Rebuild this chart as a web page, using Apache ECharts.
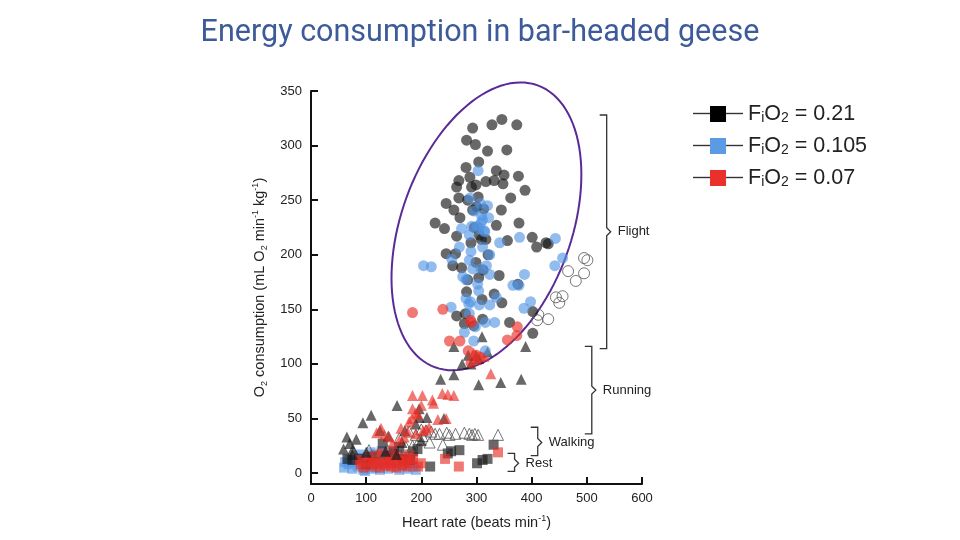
<!DOCTYPE html>
<html>
<head>
<meta charset="utf-8">
<title>Energy consumption in bar-headed geese</title>
<script src="https://cdn.jsdelivr.net/npm/echarts@6/dist/echarts.min.js"></script>
<style>
  html, body { margin: 0; padding: 0; background: #fff; }
  #chart { width: 960px; height: 540px; }
</style>
</head>
<body>
<div id="chart"></div>
<script>
const legendNames = ['FiO2 = 0.21', 'FiO2 = 0.105', 'FiO2 = 0.07'];

// flight (circles)
const flightBlack = [[293,316],[328,319],[346,324],[373,319],[282,305],[298,301],[320,295],[355,296],[304,285],[281,280],[336,277],[350,273],[376,272],[288,271],[268,268],[317,267],[332,268],[348,265],[291,262],[264,262],[299,264],[388,259],[268,252],[245,247],[284,250],[362,252],[303,253],[313,242],[345,241],[259,241],[270,234],[225,229],[242,224],[336,227],[377,229],[296,225],[264,217],[309,214],[317,214],[356,213],[401,216],[409,207],[426,211],[430,210],[245,201],[262,201],[321,200],[299,193],[257,190],[273,188],[341,181],[312,186],[284,177],[375,173],[304,179],[282,166],[332,164],[310,159],[346,156],[402,148],[264,144],[280,146],[311,141],[360,138],[402,128],[278,137],[295,135],[300,244],[293,241],[290,211],[305,218]];
const flightBlue = [[303,277],[288,252],[307,247],[322,234],[311,232],[301,226],[315,221],[273,224],[287,218],[378,216],[342,211],[443,215],[456,197],[442,190],[255,196],[204,190],[218,189],[290,203],[311,207],[287,195],[324,200],[293,187],[308,187],[324,182],[281,177],[302,173],[304,167],[366,172],[377,172],[387,182],[336,161],[281,160],[289,157],[305,154],[324,154],[254,152],[398,157],[386,151],[287,146],[316,138],[333,138],[298,134],[278,129],[295,121],[316,112],[269,207],[309,236],[296,240],[275,180],[318,190],[291,226],[308,229],[320,245],[286,155],[305,224],[314,222]];
const flightRed = [[184,147],[239,150],[251,121],[270,121],[289,140],[291,138],[290,101],[307,106],[356,122],[374,134],[373,126],[300,108],[285,112]];
const flightOpen = [[495,197],[501,195],[466,185],[495,183],[480,176],[444,161],[456,162],[450,156],[412,145],[410,140],[430,141]];

// running / walking (triangles)
const runBlack = [[259,116],[285,108],[299,108],[320,111],[310,125],[274,100],[304,105],[389,116],[235,86],[259,90],[304,81],[344,83],[381,86],[156,62],[196,59],[109,53],[94,46],[241,50],[210,51],[196,51],[65,33],[82,31],[59,22],[76,22],[70,27],[125,39],[170,39],[135,20],[155,17],[200,30],[190,45],[165,28],[290,100],[75,17],[100,19],[140,34]];
const runRed = [[184,71],[202,71],[220,67],[222,64],[200,62],[184,59],[194,54],[183,50],[178,47],[163,41],[127,41],[133,35],[142,33],[160,30],[238,73],[248,72],[259,71],[326,91],[245,50],[214,42],[203,39],[190,36],[169,33],[148,27],[119,37],[208,40],[230,49],[190,55],[300,104],[295,110],[314,107],[175,38]];
const walkOpen = [[178,38],[190,35],[209,39],[218,38],[233,36],[246,37],[251,35],[278,37],[287,36],[297,36],[303,35],[339,35],[239,26],[196,30],[184,25],[172,24],[202,34],[105,21],[139,21],[124,19],[215,28],[200,40],[160,32],[225,36],[262,36],[292,35]];

// rest (squares)
const restBlack = [[248,18],[254,20],[269,21],[216,6],[301,9],[311,12],[320,13],[331,26],[66,13],[75,12],[193,22],[160,24],[130,27],[111,15],[87,13],[166,13],[142,16],[180,12],[185,20],[100,8],[150,20]];
const restBlue = [[60,5],[68,8],[75,4],[80,10],[85,6],[90,14],[95,3],[100,8],[105,12],[110,4],[115,17],[120,10],[125,3],[130,15],[135,8],[140,4],[145,12],[150,18],[155,7],[160,3],[165,13],[170,8],[175,4],[180,11],[185,6],[190,3],[70,12],[88,17],[108,19],[128,20],[62,10],[98,2],[118,5],[138,18],[158,16]];
const restRed = [[243,13],[268,6],[339,19],[199,9],[194,6],[90,8],[100,10],[110,6],[115,12],[120,8],[125,5],[130,10],[135,7],[140,12],[145,6],[150,9],[155,5],[160,11],[165,7],[170,10],[175,6],[180,9],[185,13],[105,15],[118,16],[133,14],[148,17],[158,15],[172,14],[95,5],[128,18],[143,9],[88,12],[112,9],[178,17]];

// annotations: [x, yTop, yBottom, yMid]
const bracketNames = ['Flight', 'Running', 'Walking', 'Rest'];
const brackets = [[536,328,114,221],[509,116,36,76],[411,42,16,28],[369,18,1.6,9]];
const ellipseCenter = [318, 226];

const yTicks = [0, 50, 100, 150, 200, 250, 300, 350];

const colors = {
  black: 'rgba(25,25,25,0.82)',
  blue: 'rgba(80,148,228,0.78)',
  red: 'rgba(232,45,38,0.8)'
};
const legendColors = ['#000', '#5b9be6', '#e8312a'];

const chart = echarts.init(document.getElementById('chart'));

function scatter(name, data, symbol, size, color, open) {
  return {
    name: name,
    type: 'scatter',
    data: data,
    symbol: symbol,
    symbolSize: size,
    itemStyle: open
      ? { color: 'rgba(255,255,255,0)', borderColor: '#555', borderWidth: 1 }
      : { color: color },
    emphasis: { disabled: true },
    silent: true
  };
}

const legendLeft = 693;
const legendTop = 103;
const legendPitch = 32;

const option = {
  animation: false,
  title: {
    text: 'Energy consumption in bar-headed geese',
    left: 'center',
    top: 13,
    textStyle: { fontFamily: 'Roboto', fontSize: 30.5, fontWeight: 'normal', color: '#3d5a99' }
  },
  legend: {
    data: legendNames.map((n, i) => ({ name: n, itemStyle: { color: legendColors[i], opacity: 1 } })),
    orient: 'vertical',
    left: legendLeft,
    top: legendTop,
    padding: 0,
    itemWidth: 50,
    itemHeight: 16,
    itemGap: 10,
    // square key in a 50px wide box (tiny end specks keep the box width)
    icon: 'path://M0,8h0.01v0.01h-0.01z M17,0h16v16h-16z M49.99,8h0.01v0.01h-0.01z',
    formatter: name => 'F{s|i}O{s|2} = ' + name.split('= ')[1],
    textStyle: {
      fontFamily: 'Liberation Sans',
      fontSize: 21.5,
      color: '#222',
      lineHeight: 22,
      rich: { s: { fontSize: 14, lineHeight: 22, verticalAlign: 'bottom', fontFamily: 'Liberation Sans', color: '#222' } }
    }
  },
  grid: { left: 311, right: 318, top: 91, bottom: 56 },
  xAxis: {
    type: 'value',
    min: 0,
    max: 600,
    interval: 100,
    name: 'Heart rate (beats min{sup|-1})',
    nameLocation: 'middle',
    nameGap: 30,
    nameTextStyle: {
      fontFamily: 'Liberation Sans', fontSize: 14.5, color: '#222', lineHeight: 18,
      rich: { sup: { fontSize: 9, verticalAlign: 'top', lineHeight: 18, fontFamily: 'Liberation Sans', color: '#222' } }
    },
    axisLine: { onZero: false, lineStyle: { color: '#111', width: 2 } },
    axisTick: { inside: true, length: 7, lineStyle: { color: '#111', width: 2 } },
    axisLabel: { margin: 8, fontFamily: 'Liberation Sans', fontSize: 13, color: '#222' },
    splitLine: { show: false }
  },
  yAxis: {
    type: 'value',
    min: -10,
    max: 350,
    name: 'O{sub|2} consumption (mL O{sub|2} min{sup|-1} kg{sup|-1})',
    nameLocation: 'middle',
    nameGap: 42,
    nameTextStyle: {
      fontFamily: 'Liberation Sans', fontSize: 14.5, color: '#222', lineHeight: 18,
      rich: {
        sub: { fontSize: 9, verticalAlign: 'bottom', lineHeight: 18, fontFamily: 'Liberation Sans', color: '#222' },
        sup: { fontSize: 9, verticalAlign: 'top', lineHeight: 18, fontFamily: 'Liberation Sans', color: '#222' }
      }
    },
    axisLine: { show: true, onZero: false, lineStyle: { color: '#111', width: 2 } },
    axisTick: { show: true, inside: true, length: 7, customValues: yTicks, lineStyle: { color: '#111', width: 2 } },
    axisLabel: { margin: 9, customValues: yTicks, fontFamily: 'Liberation Sans', fontSize: 13, color: '#222' },
    splitLine: { show: false }
  },
  // grey connector lines of the legend keys
  graphic: [0, 1, 2].flatMap(i => {
    const y = legendTop + 10.5 + i * legendPitch;
    return [
      { type: 'line', z: 200, shape: { x1: legendLeft, y1: y, x2: legendLeft + 17, y2: y }, style: { stroke: '#333', lineWidth: 1.4 } },
      { type: 'line', z: 200, shape: { x1: legendLeft + 33, y1: y, x2: legendLeft + 50, y2: y }, style: { stroke: '#333', lineWidth: 1.4 } }
    ];
  }),
  series: [
    scatter(legendNames[1], restBlue, 'rect', 10, colors.blue),
    scatter(legendNames[0], restBlack, 'rect', 10, colors.black),
    scatter(legendNames[2], restRed, 'rect', 10, colors.red),
    scatter('walking', walkOpen, 'triangle', 11, null, true),
    scatter(legendNames[0], runBlack, 'triangle', 11, colors.black),
    scatter(legendNames[2], runRed, 'triangle', 11, colors.red),
    scatter(legendNames[0], flightBlack, 'circle', 11, colors.black),
    scatter(legendNames[1], flightBlue, 'circle', 11, colors.blue),
    scatter(legendNames[2], flightRed, 'circle', 11, colors.red),
    scatter('open', flightOpen, 'circle', 11, null, true),
    {
      type: 'custom',
      name: 'brackets',
      data: brackets,
      clip: false,
      silent: true,
      renderItem: (params, api) => {
        const top = api.coord([api.value(0), api.value(1)]);
        const bot = api.coord([api.value(0), api.value(2)]);
        const mid = api.coord([api.value(0), api.value(3)]);
        const x = top[0];
        return {
          type: 'group',
          children: [
            {
              type: 'polyline',
              shape: { points: [[x - 7, top[1]], [x, top[1]], [x, mid[1] - 4], [x + 4, mid[1]], [x, mid[1] + 4], [x, bot[1]], [x - 7, bot[1]]] },
              style: { stroke: '#333', lineWidth: 1.3, fill: null }
            },
            {
              type: 'text',
              x: x + 11,
              y: mid[1],
              style: { text: bracketNames[params.dataIndex], fill: '#222', fontSize: 13, fontFamily: 'Liberation Sans', verticalAlign: 'middle' }
            }
          ]
        };
      }
    },
    {
      type: 'custom',
      name: 'ellipse',
      data: [ellipseCenter],
      clip: false,
      silent: true,
      renderItem: (params, api) => {
        const c = api.coord([api.value(0), api.value(1)]);
        const th = 20 * Math.PI / 180;
        const a = 150, b = 85;
        const pts = [];
        for (let i = 0; i < 120; i++) {
          const t = i / 120 * Math.PI * 2;
          const u = a * Math.cos(t), v = b * Math.sin(t);
          pts.push([c[0] + u * Math.sin(th) + v * Math.cos(th), c[1] - u * Math.cos(th) + v * Math.sin(th)]);
        }
        return { type: 'polygon', shape: { points: pts }, style: { fill: null, stroke: '#5a2a97', lineWidth: 2 } };
      }
    }
  ]
};

chart.setOption(option);
</script>
</body>
</html>
